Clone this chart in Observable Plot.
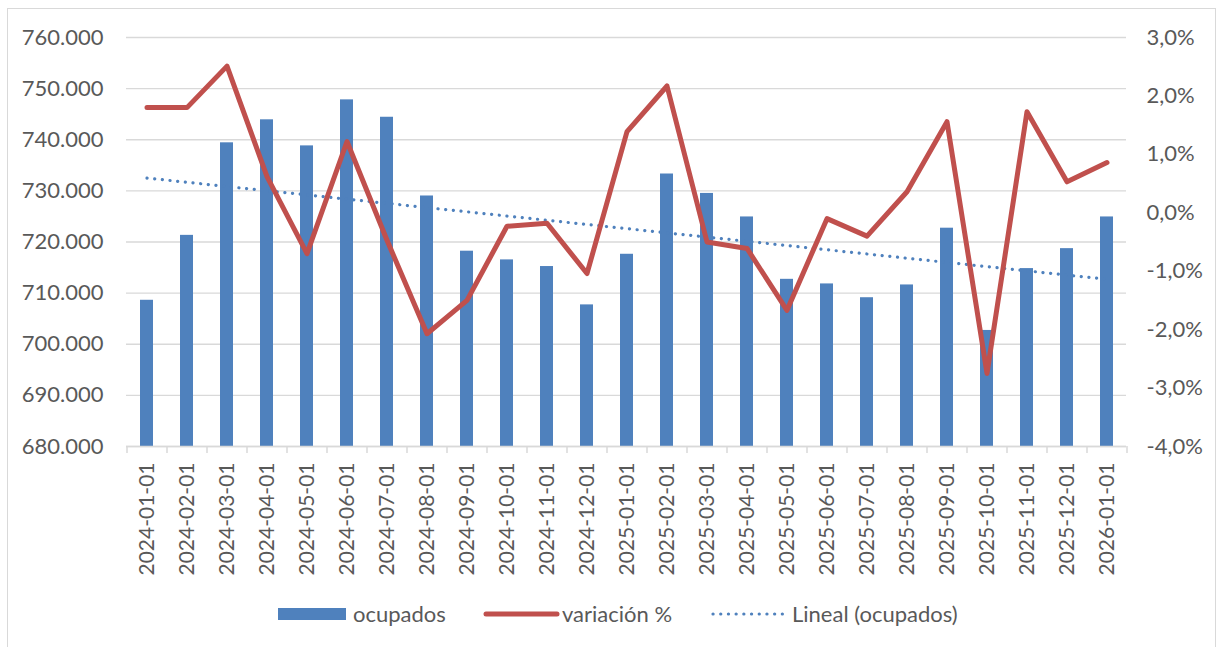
<!DOCTYPE html>
<html><head><meta charset="utf-8">
<script src="https://cdn.jsdelivr.net/npm/d3@7"></script>
<script src="https://cdn.jsdelivr.net/npm/@observablehq/plot@0.6"></script>
<style>
body{margin:0;background:#fff;font-family:Lato,sans-serif;}
#wrap{position:relative;width:1222px;height:647px;overflow:hidden;background:#fff;}
#frame{position:absolute;left:7px;top:8px;width:1209px;height:700px;border:1.5px solid #d9d9d9;box-sizing:border-box;}
#chart{position:absolute;left:0;top:0;}
.leg{position:absolute;top:600px;height:28px;line-height:28px;font-size:22px;color:#595959;white-space:nowrap;font-family:Lato,sans-serif;}
.sw{position:absolute;}
</style></head><body>
<div id="wrap"><div id="frame"></div><div id="chart"></div><div id="legend"></div></div>
<script>
const fechas = ["2024-01-01","2024-02-01","2024-03-01","2024-04-01","2024-05-01","2024-06-01","2024-07-01","2024-08-01","2024-09-01","2024-10-01","2024-11-01","2024-12-01","2025-01-01","2025-02-01","2025-03-01","2025-04-01","2025-05-01","2025-06-01","2025-07-01","2025-08-01","2025-09-01","2025-10-01","2025-11-01","2025-12-01","2026-01-01"];
const ocupados = [708600,721300,739400,743900,738800,747800,744400,729000,718200,716500,715200,707700,717600,733300,729500,724900,712700,711800,709100,711600,722700,702700,714800,718700,724900];
const variacion = [1.80,1.80,2.51,0.62,-0.70,1.22,-0.47,-2.07,-1.50,-0.23,-0.18,-1.04,1.39,2.17,-0.50,-0.61,-1.67,-0.10,-0.40,0.36,1.56,-2.75,1.73,0.53,0.86];
const ticksIzq = [680000,690000,700000,710000,720000,730000,740000,750000,760000];
const ticksDer = [-4,-3,-2,-1,0,1,2,3];
const serieNombres = ["ocupados","variación %","Lineal (ocupados)"];

const yMin = 680000, yMax = 760000, pMin = -4, pMax = 3;
const toY = v => yMin + (v - pMin) * (yMax - yMin) / (pMax - pMin);
const fromY = y => pMin + (y - yMin) * (pMax - pMin) / (yMax - yMin);

// linear trend (least squares on month index)
const idx = d3.range(ocupados.length);
const mx = d3.mean(idx), my = d3.mean(ocupados);
const slope = d3.sum(idx, i => (i - mx) * (ocupados[i] - my)) / d3.sum(idx, i => (i - mx) ** 2);
const tendencia = idx.map(i => my + slope * (i - mx));

const rows = fechas.map((f, i) => ({fecha: f, ocupados: ocupados[i], variacion: variacion[i], tendencia: tendencia[i]}));

const gray = "#595959", grid = "#d9d9d9";
const fmtMiles = d => d3.format(",")(d).replace(/,/g, ".");
const fmtPct = d => { const v = Math.round(fromY(d) * 10) / 10; return v.toFixed(1).replace(".", ",") + "%"; };

const chart = Plot.plot({
  width: 1222, height: 590,
  marginLeft: 126, marginRight: 96, marginTop: 37, marginBottom: 144,
  style: {fontFamily: "Lato, sans-serif", fontSize: "22px", color: gray, background: "transparent"},
  x: {type: "band", domain: fechas, paddingInner: 0.675, paddingOuter: 0.3375, label: null},
  y: {domain: [yMin, yMax], label: null},
  marks: [
    Plot.gridY(ticksIzq, {stroke: grid, strokeOpacity: 1, strokeWidth: 1.3}),
    Plot.barY(rows, {x: "fecha", y1: yMin, y2: "ocupados", fill: "#4f81bd"}),
    Plot.ruleY([yMin], {stroke: grid, strokeWidth: 1.5}),
    Plot.axisX({tickSize: 7, dx: -20, fill: "none", stroke: grid, strokeWidth: 1.5, strokeOpacity: 1}),
    Plot.axisX([fechas[fechas.length - 1]], {tickSize: 7, dx: 20, fill: "none", stroke: grid, strokeWidth: 1.5, strokeOpacity: 1}),
    Plot.axisX({tickSize: 0, tickPadding: 16, tickRotate: -90, fill: gray, fontSize: 21}),
    Plot.axisY(ticksIzq, {anchor: "left", tickSize: 0, tickPadding: 23, tickFormat: fmtMiles, fill: gray, fontSize: 22}),
    Plot.axisY(ticksDer.map(toY), {anchor: "right", tickSize: 0, tickPadding: 20, tickFormat: fmtPct, fill: gray, fontSize: 22}),
    Plot.line(rows, {x: "fecha", y: "tendencia", stroke: "#4f81bd", strokeWidth: 3.2, strokeDasharray: "0.1 7.6", strokeLinecap: "round"}),
    Plot.line(rows, {x: "fecha", y: d => toY(d.variacion), stroke: "#c0504d", strokeWidth: 5, strokeLinejoin: "round", strokeLinecap: "round"})
  ]
});
document.getElementById("chart").appendChild(chart);

// legend
const leg = document.getElementById("legend");
leg.innerHTML = `
  <div class="sw" style="left:278px;top:608px;width:68px;height:12px;background:#4f81bd"></div>
  <div class="leg" style="left:353px">${serieNombres[0]}</div>
  <svg class="sw" style="left:483px;top:608px" width="78" height="12"><line x1="3" y1="6" x2="74" y2="6" stroke="#c0504d" stroke-width="5" stroke-linecap="round"/></svg>
  <div class="leg" style="left:562px">${serieNombres[1]}</div>
  <svg class="sw" style="left:711px;top:608px" width="76" height="12"><line x1="2" y1="6" x2="72" y2="6" stroke="#4f81bd" stroke-width="3.2" stroke-dasharray="0.1 7.6" stroke-linecap="round"/></svg>
  <div class="leg" style="left:792px">${serieNombres[2]}</div>
`;
</script>
</body></html>
